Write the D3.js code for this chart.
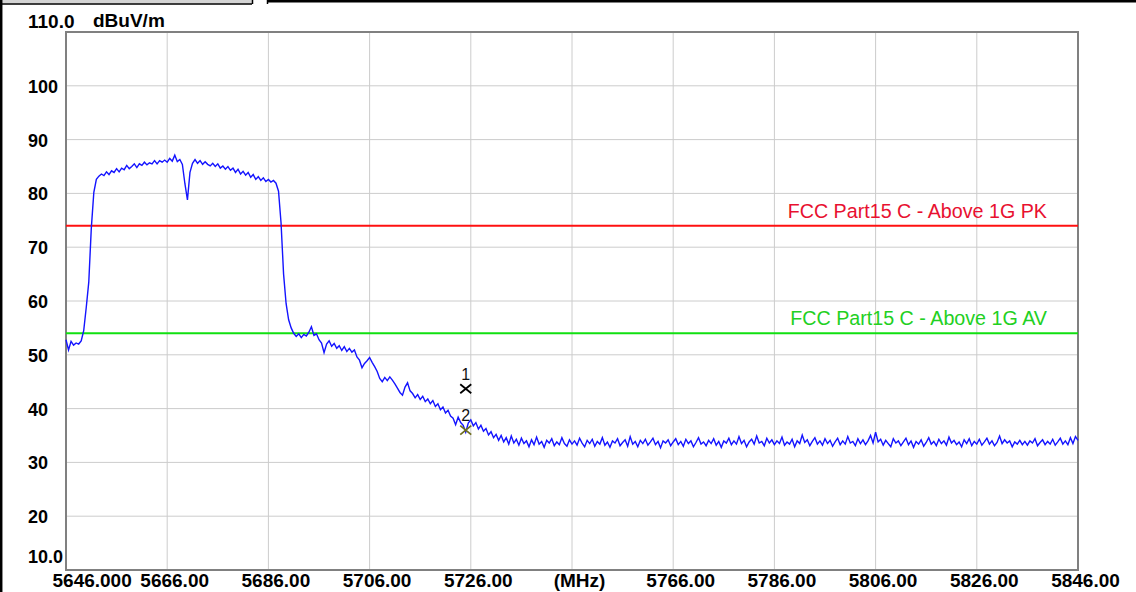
<!DOCTYPE html>
<html>
<head>
<meta charset="utf-8">
<script src="https://cdn.jsdelivr.net/npm/d3@7"></script>
<style>
  body { margin: 0; background: #fff; }
  text { font-family: "Liberation Sans", Arial, sans-serif; }
</style>
</head>
<body>
<div id="container"></div>
<script>

// sweep settings (MHz)
let freqStart = 5646;
let freqStep = 0.5;

// trace level, dBuV/m, one value per sweep step
let traceValues = [
  52.8, 50.9, 52.5, 51.8, 52.2, 52.0, 52.6, 54.5, 58.8, 63.5,
  73.5, 80.2, 82.6, 83.2, 83.6, 83.3, 84.0, 83.5, 84.2, 83.9,
  84.6, 84.0, 84.7, 84.4, 85.2, 84.6, 85.0, 85.5, 84.8, 85.5,
  85.2, 85.8, 85.3, 85.7, 85.5, 86.1, 85.5, 86.1, 85.8, 86.2,
  85.8, 86.5, 86.0, 87.1, 85.9, 86.3, 85.4, 81.8, 78.8, 83.9,
  85.6, 86.3, 85.6, 86.1, 85.4, 85.9, 85.4, 85.1, 85.6, 85.0,
  85.5, 84.7, 85.1, 84.5, 85.0, 84.3, 84.7, 83.9, 84.5, 83.6,
  84.1, 83.4, 83.9, 83.0, 83.5, 82.6, 83.1, 82.4, 82.9, 82.2,
  82.6, 82.1, 82.4, 81.9, 80.4, 74.5, 65.0, 59.5, 56.5, 55.0,
  54.0, 53.4, 53.9, 53.2, 53.8, 53.5, 54.2, 55.2, 53.6, 53.9,
  52.8, 52.2, 50.4, 52.0, 52.6, 51.6, 52.1, 51.2, 51.7, 50.8,
  51.5, 50.6, 51.2, 50.5, 50.9, 49.6, 49.0, 47.6, 48.4, 48.9,
  49.5, 48.6, 47.8, 46.9, 45.6, 45.0, 45.8, 45.2, 45.9, 45.3,
  44.6, 43.8, 43.0, 42.5, 44.0, 44.8, 43.3, 42.8, 42.0, 42.6,
  41.7, 42.3, 41.3, 41.8, 40.9, 41.5, 40.4, 40.9, 39.8, 40.3,
  39.2, 39.7, 38.6, 38.2, 37.0, 38.4, 37.4, 36.9, 35.6, 37.3,
  37.9, 36.8, 37.4, 36.2, 36.9, 35.8, 36.3, 35.1, 35.7, 34.6,
  35.2, 34.1, 35.0, 33.8, 34.6, 33.4, 34.9, 33.6, 34.3, 33.2,
  34.5, 33.5, 34.0, 32.9, 34.2, 33.3, 34.7, 33.4, 33.9, 32.8,
  34.1, 33.6, 34.4, 33.1, 33.8, 33.3, 34.6, 33.5, 33.0, 34.2,
  33.4, 34.0, 33.2, 34.5, 33.6, 32.9, 34.1, 33.5, 34.3, 33.0,
  33.9, 33.4, 34.6, 33.2, 33.8, 32.8, 34.0, 33.6, 34.4, 33.1,
  33.7, 34.2, 33.0, 34.8, 33.4, 33.9, 32.9, 34.1, 33.5, 34.3,
  33.2, 33.8, 34.5, 33.3, 33.9, 32.7, 34.0, 33.6, 34.2, 33.1,
  33.8, 34.4, 33.3, 33.9, 33.0, 34.3, 33.5, 34.0, 32.9, 33.7,
  34.6, 33.4, 33.8, 33.1, 34.1, 33.5, 34.4, 33.2, 33.9, 32.8,
  34.0, 33.6, 34.5, 33.3, 34.0, 33.4, 34.8, 33.5, 34.1, 32.9,
  33.8, 34.3, 33.4, 34.9, 33.6, 33.9, 33.1, 34.5, 33.6, 34.2,
  33.3, 34.0, 33.5, 34.7, 33.2, 33.8, 33.4, 34.3, 32.9, 34.0,
  33.5, 35.1, 33.7, 34.2, 33.1, 33.9, 34.6, 33.4, 34.0, 33.2,
  34.4, 33.5, 34.1, 33.0, 33.8, 34.5, 33.3, 34.0, 33.4, 34.8,
  33.6, 33.9, 33.1, 34.4, 33.5, 34.2, 33.3, 34.0, 35.0, 33.6,
  35.6, 33.8, 34.3, 33.2, 34.1, 33.5, 32.9, 34.4, 33.6, 34.0,
  33.1, 33.8, 34.5, 33.3, 34.0, 32.8, 33.9, 33.4, 34.2, 33.0,
  33.7, 34.6, 33.4, 33.9, 33.1, 34.3, 33.5, 34.0, 33.2, 34.7,
  33.6, 34.1, 33.3, 33.8, 32.9, 34.2, 33.5, 34.4, 33.1, 33.9,
  33.4, 34.3, 33.2, 33.8, 34.5, 33.4, 34.0, 33.1, 33.7, 34.9,
  33.5, 34.2, 33.6, 34.0, 32.9, 33.8, 33.4, 34.1, 33.3, 33.9,
  33.2, 34.0, 33.6, 34.4, 33.1, 33.7, 34.2, 33.3, 33.9, 33.4,
  34.3, 33.2, 33.8, 34.5, 33.4, 34.0, 33.3, 34.6, 33.5, 34.8,
  34.1
];

// limit lines
let limitNames = ["FCC Part15 C - Above 1G PK", "FCC Part15 C - Above 1G AV"];
let limitValues = [74, 54];

// markers
let markerNames = ["1", "2"];
let markerFreqs = [5725.0, 5725.0];
let markerValues = [43.7, 36.0];

// axis ticks
let xTicks = [5646, 5666, 5686, 5706, 5726, 5746, 5766, 5786, 5806, 5826, 5846];
let xLabels = ["5646.000", "5666.00", "5686.00", "5706.00", "5726.00", "(MHz)", "5766.00", "5786.00", "5806.00", "5826.00", "5846.00"];
let yTicks = [10, 20, 30, 40, 50, 60, 70, 80, 90, 100, 110];
let yLabels = ["10.0", "20", "30", "40", "50", "60", "70", "80", "90", "100", "110.0"];

let w = 1136;
let h = 592;

let viz = d3.select("#container")
  .append("svg")
    .attr("width", w)
    .attr("height", h)
;

// page frame bits at the top / left
viz.append("rect").attr("x", 0).attr("y", 0).attr("width", 252).attr("height", 3.5).attr("fill", "#d4d4d4");
viz.append("line").attr("x1", 0).attr("x2", 252).attr("y1", 4).attr("y2", 4).attr("stroke", "#000").attr("stroke-width", 1.5);
viz.append("line").attr("x1", 252.5).attr("x2", 252.5).attr("y1", 0).attr("y2", 4).attr("stroke", "#000").attr("stroke-width", 1.5);
viz.append("line").attr("x1", 267.5).attr("x2", 267.5).attr("y1", 0).attr("y2", 4).attr("stroke", "#000").attr("stroke-width", 1.5);
viz.append("line").attr("x1", 267).attr("x2", w).attr("y1", 1.2).attr("y2", 1.2).attr("stroke", "#000").attr("stroke-width", 2.5);
viz.append("line").attr("x1", 1.2).attr("x2", 1.2).attr("y1", 0).attr("y2", h).attr("stroke", "#000").attr("stroke-width", 2.5);

//scales
let xScale = d3.scaleLinear().domain([5646, 5846]).range([66, 1078]);
let yScale = d3.scaleLinear().domain([10, 110]).range([570, 32]);

//grid
let gridGroup = viz.append("g").attr("class", "grid");
gridGroup.selectAll(".vgrid").data(xTicks).enter().append("line")
  .attr("x1", d => xScale(d)).attr("x2", d => xScale(d))
  .attr("y1", yScale(110)).attr("y2", yScale(10))
  .attr("stroke", "#cccccc").attr("stroke-width", 1);
gridGroup.selectAll(".hgrid").data(yTicks).enter().append("line")
  .attr("x1", xScale(5646)).attr("x2", xScale(5846))
  .attr("y1", d => yScale(d)).attr("y2", d => yScale(d))
  .attr("stroke", "#cccccc").attr("stroke-width", 1);

//x axis
let xAxis = d3.axisBottom(xScale).tickValues(xTicks).tickFormat((d, i) => xLabels[i]).tickSize(0);
let xAxisGroup = viz.append("g").attr("class", "xaxis")
  .attr("transform", "translate(0, " + yScale(10) + ")")
  .call(xAxis);
xAxisGroup.select(".domain").remove();
xAxisGroup.selectAll("text")
  .attr("y", 17).attr("dy", 0).attr("x", 7)
  .attr("fill", "#000").style("font-size", "19px").style("font-weight", "bold");
xAxisGroup.selectAll("text").filter((d, i) => i == 0)
  .attr("text-anchor", "start").attr("x", -14);

//y axis
let yAxis = d3.axisLeft(yScale).tickValues(yTicks).tickFormat((d, i) => yLabels[i]).tickSize(0);
let yAxisGroup = viz.append("g").attr("class", "yaxis")
  .attr("transform", "translate(" + xScale(5646) + ", 0)")
  .call(yAxis);
yAxisGroup.select(".domain").remove();
yAxisGroup.selectAll("text")
  .attr("text-anchor", "start").attr("x", -38).attr("dy", "0.36em")
  .attr("fill", "#000").style("font-size", "18px").style("font-weight", "bold");
yAxisGroup.selectAll("text").filter(d => d == 110).attr("dy", -5).style("font-size", "19px");
yAxisGroup.selectAll("text").filter(d => d == 10).attr("dy", -8);

viz.append("text").attr("x", 93).attr("y", 27).text("dBuV/m")
  .style("font-size", "19px").style("font-weight", "bold");

//frame of the plot
viz.append("rect")
  .attr("x", xScale(5646)).attr("y", yScale(110))
  .attr("width", xScale(5846) - xScale(5646)).attr("height", yScale(10) - yScale(110))
  .attr("fill", "none").attr("stroke", "#808080").attr("stroke-width", 2);

//limit lines
let limitColors = ["#ff1010", "#10e010"];
let limitTextColors = ["#e81030", "#22d022"];
let limitGroup = viz.append("g").attr("class", "limits");
limitGroup.selectAll("line").data(limitValues).enter().append("line")
  .attr("x1", xScale(5646)).attr("x2", xScale(5846))
  .attr("y1", d => yScale(d)).attr("y2", d => yScale(d))
  .attr("stroke", (d, i) => limitColors[i]).attr("stroke-width", 2);
limitGroup.selectAll("text").data(limitValues).enter().append("text")
  .attr("x", 1047).attr("y", d => yScale(d) - 8)
  .attr("text-anchor", "end")
  .attr("fill", (d, i) => limitTextColors[i])
  .style("font-size", "19.7px")
  .text((d, i) => limitNames[i]);

//trace
let line = d3.line()
  .x((d, i) => xScale(freqStart + i * freqStep))
  .y(d => yScale(d));
viz.append("path").datum(traceValues)
  .attr("d", line)
  .attr("fill", "none").attr("stroke", "#1414ff").attr("stroke-width", 1.4);

//markers
let markerColors = ["#000000", "#6e6e1e"];
let markerGroup = viz.append("g").attr("class", "markers");
let marks = markerGroup.selectAll("g").data(markerValues).enter().append("g")
  .attr("transform", (d, i) => "translate(" + xScale(markerFreqs[i]) + "," + yScale(d) + ")");
marks.append("path")
  .attr("d", "M-5.5,-4.5L5.5,4.5M-5.5,4.5L5.5,-4.5")
  .attr("stroke", (d, i) => markerColors[i]).attr("stroke-width", 1.8).attr("fill", "none");
marks.append("text")
  .attr("y", -9).attr("text-anchor", "middle")
  .style("font-size", "16px")
  .attr("fill", "#111")
  .text((d, i) => markerNames[i]);

</script>
</body>
</html>
